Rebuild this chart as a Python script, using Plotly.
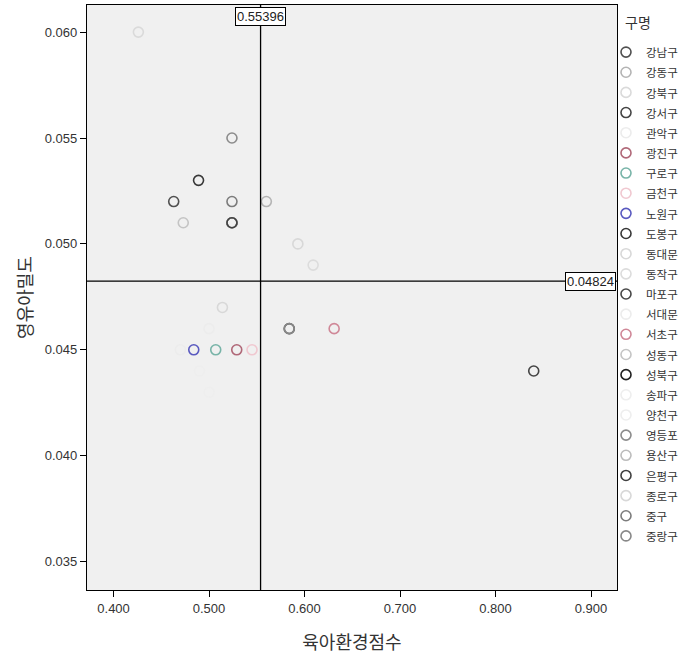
import plotly.graph_objects as go

districts = ["강남구", "강동구", "강북구", "강서구", "관악구", "광진구", "구로구", "금천구",
             "노원구", "도봉구", "동대문", "동작구", "마포구", "서대문", "서초구", "성동구",
             "성북구", "송파구", "양천구", "영등포", "용산구", "은평구", "종로구", "중구", "중랑구"]
env_score = [0.463, 0.560, 0.426, 0.840, 0.500, 0.529, 0.507, 0.545,
             0.484, 0.489, 0.593, 0.609, 0.584, 0.470, 0.631, 0.473,
             0.524, 0.490, 0.500, 0.524, 0.524, 0.524, 0.514, 0.524, 0.584]
child_density = [0.052, 0.052, 0.060, 0.044, 0.046, 0.045, 0.045, 0.045,
                 0.045, 0.053, 0.050, 0.049, 0.046, 0.045, 0.046, 0.051,
                 0.051, 0.044, 0.043, 0.055, 0.051, 0.051, 0.047, 0.052, 0.046]
marker_colors = ["#505050", "#b4b4b4", "#dadada", "#454545", "#ececec", "#b06878", "#78b4a8", "#f0c8d0",
                 "#5a5ac0", "#383838", "#d8d8d8", "#dcdcdc", "#484848", "#ececec", "#d08898", "#c4c4c4",
                 "#202020", "#eeeeee", "#eeeeee", "#8c8c8c", "#bcbcbc", "#404040", "#d8d8d8", "#7c7c7c", "#888888"]

x_ref = 0.55396
y_ref = 0.04824
legend_title = "구명"

FONT = "Liberation Sans, Arial, Noto Sans CJK KR"
L, R, T, B, W, H = 87, 65, 5, 65, 682, 655
PW, PH = W - L - R, H - T - B

fig = go.Figure()
for name, xv, yv, col in zip(districts, env_score, child_density, marker_colors):
    fig.add_trace(go.Scatter(
        x=[xv], y=[yv], mode="markers",
        name=f"<span style='font-size:11.5px'>{name}</span>",
        marker=dict(symbol="circle-open", size=10, color=col, line=dict(width=1.6, color=col)),
    ))

fig.add_vline(x=x_ref, line=dict(color="black", width=1.3))
fig.add_hline(y=y_ref, line=dict(color="black", width=1.3))

fig.add_annotation(x=x_ref, xref="x", y=1, yref="paper", yanchor="top", yshift=-2,
                   text="0.55396", showarrow=False, bgcolor="white", bordercolor="black",
                   borderwidth=1, borderpad=1, font=dict(family=FONT, size=13, color="#222"))
fig.add_annotation(x=1, xref="paper", xanchor="right", xshift=-1, y=y_ref, yref="y", yanchor="middle",
                   text="0.04824", showarrow=False, bgcolor="white", bordercolor="black",
                   borderwidth=1, borderpad=1, font=dict(family=FONT, size=13, color="#222"))
fig.add_annotation(x=(638 - L) / PW, xref="paper", xanchor="center",
                   y=1 - (23 - T) / PH, yref="paper", yanchor="middle",
                   text=legend_title, showarrow=False,
                   font=dict(family=FONT, size=14, color="#333"))

fig.update_layout(
    width=W, height=H,
    margin=dict(l=L, r=R, t=T, b=B, autoexpand=False),
    paper_bgcolor="white", plot_bgcolor="#f0f0f0",
    font=dict(family=FONT, size=12, color="#333"),
    showlegend=True,
    legend=dict(
        x=(606 - L) / PW, xanchor="left", y=1 - (37 - T) / PH, yanchor="top",
        font=dict(family=FONT, size=13.2, color="#333"),
        bgcolor="rgba(0,0,0,0)", tracegroupgap=0, itemwidth=30,
    ),
    xaxis=dict(
        range=[0.3722, 0.9272], tickvals=[0.4, 0.5, 0.6, 0.7, 0.8, 0.9], tickformat=".3f",
        showgrid=False, zeroline=False, showline=True, linecolor="black", linewidth=1.3,
        mirror=True, ticks="outside", ticklen=6, tickcolor="black",
        title=dict(text="육아환경점수", font=dict(family=FONT, size=18, color="#333"), standoff=21),
        tickfont=dict(family=FONT, size=13, color="#333"),
    ),
    yaxis=dict(
        range=[0.03366, 0.06128], tickvals=[0.035, 0.040, 0.045, 0.050, 0.055, 0.060], tickformat=".3f",
        showgrid=False, zeroline=False, showline=True, linecolor="black", linewidth=1.3,
        mirror=True, ticks="outside", ticklen=6, tickcolor="black",
        title=dict(text="영유아밀도", font=dict(family=FONT, size=18, color="#333"), standoff=7),
        tickfont=dict(family=FONT, size=13, color="#333"),
    ),
)

fig.write_html("out.html", config={"displayModeBar": False},
               post_script="document.body.style.margin='0';")
